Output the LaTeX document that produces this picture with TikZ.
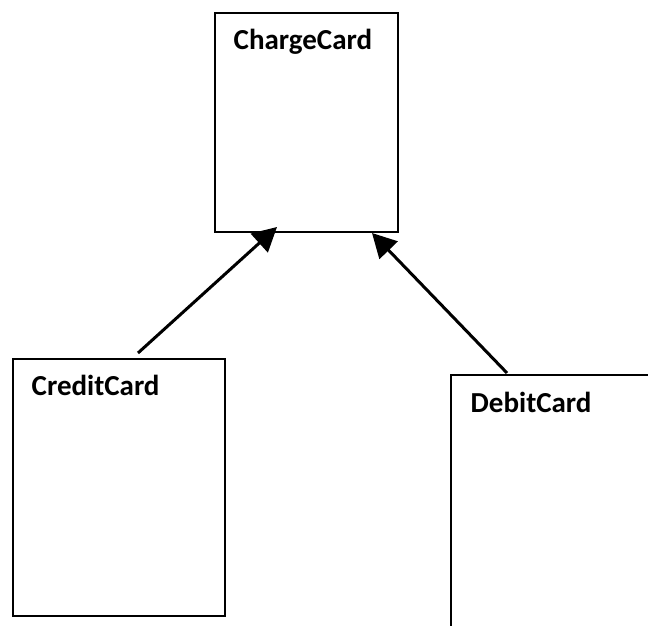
\documentclass[tikz,border=0pt]{standalone}
\usepackage{fontspec}
\setmainfont{Carlito}
\usetikzlibrary{arrows.meta}
\begin{document}
\begin{tikzpicture}[x=1pt,y=-1pt,
  classbox/.style={draw=black,line width=2pt,fill=white,inner sep=0pt,anchor=north west},
  classname/.style={anchor=base west,inner sep=0pt,font=\fontsize{29}{34}\selectfont\bfseries},
  inherit/.style={line width=3pt,-{Triangle[length=24pt,width=25pt]}}]
\useasboundingbox (0,0) rectangle (648,626);
\clip (0,0) rectangle (648,626);
% class boxes
\node[classbox,minimum width=183pt,minimum height=219.5pt] (charge) at (214,11.7) {};
\node[classbox,minimum width=212pt,minimum height=256.5pt] (credit) at (12,358) {};
\node[classbox,minimum width=210pt,minimum height=270pt] (debit) at (450,374) {};
% class names
\node[classname] (chargename) at (233.5,50) {ChargeCard};
\node[classname] (creditname) at (31.5,395) {CreditCard};
\node[classname] (debitname) at (470.5,412) {DebitCard};
% generalisation arrows
\coordinate (credittop) at (138,353);
\coordinate (chargeleft) at (277,227);
\coordinate (debittop) at (507,373);
\coordinate (chargeright) at (372,233);
\draw[inherit] (credittop) -- (chargeleft);
\draw[inherit] (debittop) -- (chargeright);
\end{tikzpicture}
\end{document}
